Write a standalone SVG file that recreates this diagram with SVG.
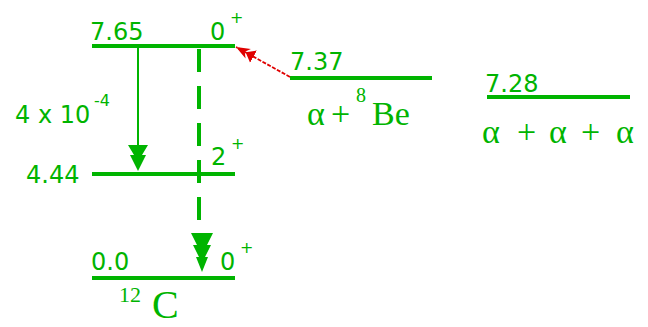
<svg xmlns="http://www.w3.org/2000/svg" width="648" height="327" viewBox="0 0 648 327">
<style>
.lvl{stroke:#00b400;stroke-width:4;fill:none}
.t{font-family:"DejaVu Sans",sans-serif;font-size:24px;fill:#00b400}
.sup{font-family:"DejaVu Sans",sans-serif;font-size:16px;fill:#00b400}
.s{font-family:"Liberation Serif",serif;fill:#00b400}
.head{fill:#00b400}
</style>
<defs>
<marker id="ar" viewBox="0 0 20 14" refX="20" refY="7" markerWidth="20" markerHeight="14" markerUnits="userSpaceOnUse" orient="auto">
<path d="M0,0 L9,7 L0,14 Z M6,1.5 L20,7 L6,12.5 L10,7 Z" fill="#e00000"/>
</marker>
</defs>
<rect width="648" height="327" fill="#fff"/>
<g id="level-7.65">
<line class="lvl" x1="92" y1="46" x2="235" y2="46"/>
<text class="t" x="90" y="40">7.65</text>
<text class="t" x="210" y="40">0</text>
<text class="sup" x="230" y="23">+</text>
</g>
<g id="level-4.44">
<line class="lvl" x1="92" y1="174" x2="235" y2="174"/>
<text class="t" x="26" y="183">4.44</text>
<text class="t" x="211" y="165">2</text>
<text class="sup" x="231" y="149">+</text>
</g>
<g id="level-0.0">
<line class="lvl" x1="92" y1="278" x2="235" y2="278"/>
<text class="t" x="91" y="270">0.0</text>
<text class="t" x="220" y="270">0</text>
<text class="sup" x="240" y="253">+</text>
<text class="s" x="119" y="302" font-size="22">12</text>
<text class="s" x="152" y="318" font-size="40">C</text>
</g>
<g id="level-7.37">
<line class="lvl" x1="290" y1="78" x2="432" y2="78"/>
<text class="t" x="290" y="70">7.37</text>
<text class="s" font-size="34" y="125"><tspan x="307">α</tspan><tspan x="331">+</tspan><tspan x="356" y="102" font-size="20">8</tspan><tspan x="372" y="125">Be</tspan></text>
</g>
<g id="level-7.28">
<line class="lvl" x1="487" y1="97" x2="630" y2="97"/>
<text class="t" x="485" y="92">7.28</text>
<text class="s" font-size="34" y="143" x="482 517 549 581 616">α+α+α</text>
</g>
<g id="connectors">
<line x1="138" y1="48" x2="138" y2="160" stroke="#00b400" stroke-width="2"/>
<polygon class="head" points="128,145 148,145 142,155 146,155 138,171 130,155 134,155"/>
<text class="t" x="15" y="123">4 x 10</text>
<text class="sup" x="94" y="106" font-size="19">-4</text>
<line x1="199" y1="49" x2="199" y2="222" stroke="#00b400" stroke-width="4" stroke-dasharray="23 14"/>
<polygon class="head" points="191,233 213,233 207,245 211,245 205,257 208,257 202,272 196,257 199,257 193,245 197,245"/>
<line x1="290" y1="77" x2="236" y2="47" stroke="#e00000" stroke-width="1.8" stroke-dasharray="4 1.5" marker-end="url(#ar)"/>
</g>
</svg>
